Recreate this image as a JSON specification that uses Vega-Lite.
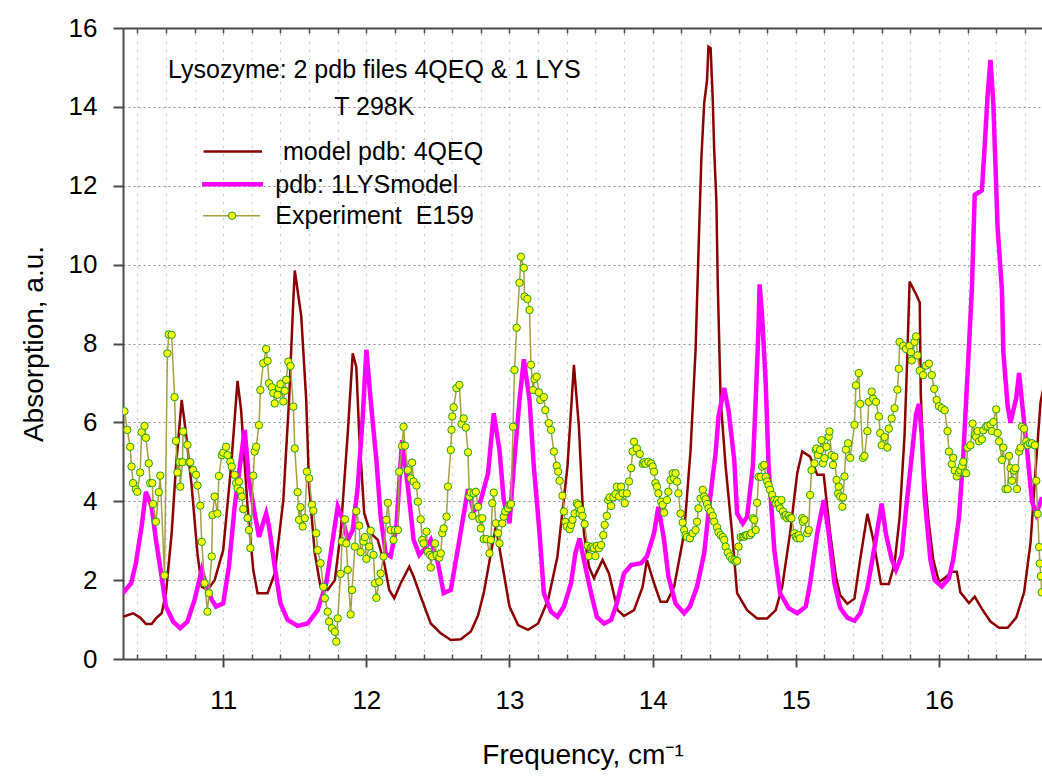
{
  "$schema": "https://vega.github.io/schema/vega-lite/v6.json",
  "width": 919,
  "height": 631,
  "autosize": {"type": "none"},
  "padding": {"left": 123, "top": 28, "right": 0, "bottom": 117},
  "background": "white",
  "config": {
    "view": {"stroke": null},
    "font": "Liberation Sans",
    "axis": {
      "labelFont": "Liberation Sans",
      "titleFont": "Liberation Sans",
      "labelColor": "#000000",
      "titleColor": "#000000",
      "titleFontWeight": "normal",
      "domainColor": "#4a4a4a",
      "domainWidth": 2,
      "tickColor": "#4a4a4a",
      "gridColor": "#8c8c8c",
      "gridWidth": 1
    }
  },
  "datasets": {
    "model4qeq": [
      {"freq": 10.30, "abs": 1.07}, {"freq": 10.37, "abs": 1.16}, {"freq": 10.42, "abs": 1.05}, {"freq": 10.46, "abs": 0.89},
      {"freq": 10.50, "abs": 0.89}, {"freq": 10.53, "abs": 1.03}, {"freq": 10.57, "abs": 1.16}, {"freq": 10.60, "abs": 1.67},
      {"freq": 10.64, "abs": 3.19}, {"freq": 10.67, "abs": 4.88}, {"freq": 10.71, "abs": 6.57}, {"freq": 10.74, "abs": 5.72},
      {"freq": 10.78, "abs": 4.37}, {"freq": 10.82, "abs": 2.68}, {"freq": 10.85, "abs": 1.83}, {"freq": 10.89, "abs": 1.75},
      {"freq": 10.94, "abs": 2.0}, {"freq": 11.0, "abs": 2.76}, {"freq": 11.055, "abs": 4.88}, {"freq": 11.10, "abs": 7.05},
      {"freq": 11.125, "abs": 6.31}, {"freq": 11.17, "abs": 3.86}, {"freq": 11.21, "abs": 2.26}, {"freq": 11.24, "abs": 1.67},
      {"freq": 11.31, "abs": 1.67}, {"freq": 11.36, "abs": 2.17}, {"freq": 11.42, "abs": 4.03}, {"freq": 11.46, "abs": 6.57},
      {"freq": 11.49, "abs": 9.1}, {"freq": 11.50, "abs": 9.85}, {"freq": 11.545, "abs": 8.7}, {"freq": 11.58, "abs": 6.57},
      {"freq": 11.60, "abs": 4.37}, {"freq": 11.64, "abs": 2.68}, {"freq": 11.68, "abs": 1.83}, {"freq": 11.73, "abs": 1.75},
      {"freq": 11.78, "abs": 2.0}, {"freq": 11.82, "abs": 3.19}, {"freq": 11.87, "abs": 5.72}, {"freq": 11.905, "abs": 7.75},
      {"freq": 11.93, "abs": 7.4}, {"freq": 11.95, "abs": 5.72}, {"freq": 11.985, "abs": 3.69}, {"freq": 12.03, "abs": 3.19},
      {"freq": 12.08, "abs": 3.02}, {"freq": 12.125, "abs": 2.43}, {"freq": 12.16, "abs": 1.75}, {"freq": 12.195, "abs": 1.54},
      {"freq": 12.24, "abs": 1.92}, {"freq": 12.30, "abs": 2.34}, {"freq": 12.33, "abs": 2.09}, {"freq": 12.38, "abs": 1.58},
      {"freq": 12.45, "abs": 0.9}, {"freq": 12.52, "abs": 0.65}, {"freq": 12.59, "abs": 0.48}, {"freq": 12.66, "abs": 0.5},
      {"freq": 12.73, "abs": 0.7}, {"freq": 12.78, "abs": 1.1}, {"freq": 12.82, "abs": 1.67}, {"freq": 12.87, "abs": 2.68},
      {"freq": 12.905, "abs": 3.36}, {"freq": 12.94, "abs": 2.6}, {"freq": 13.0, "abs": 1.33}, {"freq": 13.06, "abs": 0.86},
      {"freq": 13.13, "abs": 0.74}, {"freq": 13.2, "abs": 0.9}, {"freq": 13.27, "abs": 1.5}, {"freq": 13.335, "abs": 2.6},
      {"freq": 13.405, "abs": 4.88}, {"freq": 13.45, "abs": 7.46}, {"freq": 13.485, "abs": 5.89}, {"freq": 13.52, "abs": 3.19},
      {"freq": 13.555, "abs": 2.34}, {"freq": 13.59, "abs": 2.05}, {"freq": 13.65, "abs": 2.51}, {"freq": 13.695, "abs": 2.17},
      {"freq": 13.755, "abs": 1.24}, {"freq": 13.80, "abs": 1.09}, {"freq": 13.87, "abs": 1.24}, {"freq": 13.93, "abs": 1.83},
      {"freq": 13.96, "abs": 2.51}, {"freq": 14.01, "abs": 1.92}, {"freq": 14.055, "abs": 1.45}, {"freq": 14.10, "abs": 1.45},
      {"freq": 14.15, "abs": 1.83}, {"freq": 14.22, "abs": 3.19}, {"freq": 14.265, "abs": 5.3}, {"freq": 14.30, "abs": 7.84},
      {"freq": 14.32, "abs": 10.29}, {"freq": 14.34, "abs": 12.66}, {"freq": 14.36, "abs": 14.09}, {"freq": 14.38, "abs": 14.68},
      {"freq": 14.39, "abs": 15.53}, {"freq": 14.405, "abs": 15.49}, {"freq": 14.42, "abs": 14.18}, {"freq": 14.43, "abs": 12.91},
      {"freq": 14.445, "abs": 11.64}, {"freq": 14.455, "abs": 9.5}, {"freq": 14.475, "abs": 6.57}, {"freq": 14.51, "abs": 4.88},
      {"freq": 14.555, "abs": 3.19}, {"freq": 14.59, "abs": 1.67}, {"freq": 14.66, "abs": 1.24}, {"freq": 14.73, "abs": 1.03},
      {"freq": 14.80, "abs": 1.03}, {"freq": 14.86, "abs": 1.24}, {"freq": 14.905, "abs": 1.83}, {"freq": 14.96, "abs": 3.19},
      {"freq": 15.01, "abs": 4.71}, {"freq": 15.045, "abs": 5.26}, {"freq": 15.10, "abs": 5.13}, {"freq": 15.15, "abs": 4.67},
      {"freq": 15.195, "abs": 4.67}, {"freq": 15.24, "abs": 3.19}, {"freq": 15.28, "abs": 2.09}, {"freq": 15.31, "abs": 1.62},
      {"freq": 15.36, "abs": 1.4}, {"freq": 15.41, "abs": 1.53}, {"freq": 15.45, "abs": 2.53}, {"freq": 15.50, "abs": 3.68},
      {"freq": 15.54, "abs": 3.05}, {"freq": 15.595, "abs": 1.9}, {"freq": 15.65, "abs": 1.9}, {"freq": 15.69, "abs": 2.42},
      {"freq": 15.725, "abs": 3.58}, {"freq": 15.76, "abs": 5.68}, {"freq": 15.78, "abs": 7.78}, {"freq": 15.795, "abs": 9.57},
      {"freq": 15.84, "abs": 9.25}, {"freq": 15.866, "abs": 9.04}, {"freq": 15.873, "abs": 6.73}, {"freq": 15.89, "abs": 5.15},
      {"freq": 15.925, "abs": 3.58}, {"freq": 15.96, "abs": 2.53}, {"freq": 16.0, "abs": 1.95}, {"freq": 16.04, "abs": 2.05},
      {"freq": 16.09, "abs": 2.21}, {"freq": 16.125, "abs": 2.21}, {"freq": 16.15, "abs": 1.69}, {"freq": 16.21, "abs": 1.42},
      {"freq": 16.25, "abs": 1.58}, {"freq": 16.30, "abs": 1.27}, {"freq": 16.36, "abs": 0.95}, {"freq": 16.42, "abs": 0.79},
      {"freq": 16.48, "abs": 0.79}, {"freq": 16.54, "abs": 1.05}, {"freq": 16.595, "abs": 1.69}, {"freq": 16.64, "abs": 2.95},
      {"freq": 16.68, "abs": 5.05}, {"freq": 16.71, "abs": 6.52}, {"freq": 16.74, "abs": 7.04}
    ],
    "model1lys": [
      {"freq": 10.30, "abs": 1.67}, {"freq": 10.357, "abs": 1.92}, {"freq": 10.39, "abs": 2.43}, {"freq": 10.43, "abs": 3.36},
      {"freq": 10.46, "abs": 4.24}, {"freq": 10.50, "abs": 3.86}, {"freq": 10.53, "abs": 3.02}, {"freq": 10.57, "abs": 2.09},
      {"freq": 10.60, "abs": 1.33}, {"freq": 10.65, "abs": 0.95}, {"freq": 10.70, "abs": 0.78}, {"freq": 10.75, "abs": 0.95},
      {"freq": 10.80, "abs": 1.5}, {"freq": 10.85, "abs": 2.26}, {"freq": 10.87, "abs": 2.0}, {"freq": 10.92, "abs": 1.5},
      {"freq": 10.95, "abs": 1.33}, {"freq": 11.0, "abs": 1.41}, {"freq": 11.04, "abs": 2.34}, {"freq": 11.08, "abs": 3.86},
      {"freq": 11.125, "abs": 5.13}, {"freq": 11.15, "abs": 5.81}, {"freq": 11.18, "abs": 4.54}, {"freq": 11.22, "abs": 3.69},
      {"freq": 11.25, "abs": 3.1}, {"freq": 11.30, "abs": 3.69}, {"freq": 11.32, "abs": 3.36}, {"freq": 11.36, "abs": 2.34},
      {"freq": 11.40, "abs": 1.41}, {"freq": 11.45, "abs": 0.99}, {"freq": 11.52, "abs": 0.84}, {"freq": 11.59, "abs": 0.9},
      {"freq": 11.66, "abs": 1.24}, {"freq": 11.72, "abs": 1.92}, {"freq": 11.765, "abs": 3.02}, {"freq": 11.80, "abs": 3.86},
      {"freq": 11.835, "abs": 3.53}, {"freq": 11.87, "abs": 3.02}, {"freq": 11.905, "abs": 3.27}, {"freq": 11.94, "abs": 4.37},
      {"freq": 11.975, "abs": 6.15}, {"freq": 12.0, "abs": 7.84}, {"freq": 12.03, "abs": 6.57}, {"freq": 12.07, "abs": 5.05},
      {"freq": 12.10, "abs": 3.61}, {"freq": 12.135, "abs": 2.68}, {"freq": 12.17, "abs": 2.6}, {"freq": 12.21, "abs": 3.36},
      {"freq": 12.25, "abs": 5.55}, {"freq": 12.29, "abs": 4.37}, {"freq": 12.33, "abs": 3.02}, {"freq": 12.37, "abs": 2.64},
      {"freq": 12.42, "abs": 2.85}, {"freq": 12.45, "abs": 3.02}, {"freq": 12.50, "abs": 2.43}, {"freq": 12.54, "abs": 1.67},
      {"freq": 12.59, "abs": 1.75}, {"freq": 12.65, "abs": 3.02}, {"freq": 12.71, "abs": 4.31}, {"freq": 12.75, "abs": 3.75},
      {"freq": 12.79, "abs": 3.9}, {"freq": 12.85, "abs": 4.71}, {"freq": 12.89, "abs": 6.23}, {"freq": 12.93, "abs": 5.3},
      {"freq": 12.96, "abs": 4.03}, {"freq": 13.0, "abs": 3.44}, {"freq": 13.03, "abs": 4.88}, {"freq": 13.07, "abs": 6.57},
      {"freq": 13.10, "abs": 7.6}, {"freq": 13.14, "abs": 6.57}, {"freq": 13.17, "abs": 4.88}, {"freq": 13.21, "abs": 3.19},
      {"freq": 13.24, "abs": 1.67}, {"freq": 13.29, "abs": 1.2}, {"freq": 13.335, "abs": 1.07}, {"freq": 13.38, "abs": 1.33},
      {"freq": 13.43, "abs": 1.92}, {"freq": 13.46, "abs": 2.68}, {"freq": 13.49, "abs": 3.06}, {"freq": 13.52, "abs": 2.51},
      {"freq": 13.57, "abs": 1.67}, {"freq": 13.61, "abs": 1.07}, {"freq": 13.66, "abs": 0.9}, {"freq": 13.71, "abs": 0.99},
      {"freq": 13.75, "abs": 1.41}, {"freq": 13.80, "abs": 2.17}, {"freq": 13.85, "abs": 2.38}, {"freq": 13.92, "abs": 2.43},
      {"freq": 13.96, "abs": 2.6}, {"freq": 14.01, "abs": 3.19}, {"freq": 14.04, "abs": 3.86}, {"freq": 14.08, "abs": 3.02},
      {"freq": 14.11, "abs": 2.09}, {"freq": 14.16, "abs": 1.41}, {"freq": 14.22, "abs": 1.16}, {"freq": 14.26, "abs": 1.33},
      {"freq": 14.31, "abs": 1.83}, {"freq": 14.36, "abs": 2.68}, {"freq": 14.40, "abs": 4.03}, {"freq": 14.44, "abs": 5.22},
      {"freq": 14.46, "abs": 6.15}, {"freq": 14.50, "abs": 6.87}, {"freq": 14.53, "abs": 6.31}, {"freq": 14.57, "abs": 5.05},
      {"freq": 14.59, "abs": 3.69}, {"freq": 14.63, "abs": 3.44}, {"freq": 14.66, "abs": 3.61}, {"freq": 14.70, "abs": 4.88},
      {"freq": 14.72, "abs": 6.57}, {"freq": 14.74, "abs": 8.43}, {"freq": 14.747, "abs": 9.5}, {"freq": 14.765, "abs": 8.68},
      {"freq": 14.79, "abs": 6.99}, {"freq": 14.81, "abs": 4.88}, {"freq": 14.85, "abs": 2.76}, {"freq": 14.89, "abs": 1.67},
      {"freq": 14.95, "abs": 1.29}, {"freq": 15.01, "abs": 1.16}, {"freq": 15.07, "abs": 1.33}, {"freq": 15.10, "abs": 1.92},
      {"freq": 15.15, "abs": 3.19}, {"freq": 15.195, "abs": 4.03}, {"freq": 15.23, "abs": 3.19}, {"freq": 15.27, "abs": 1.92},
      {"freq": 15.31, "abs": 1.3}, {"freq": 15.36, "abs": 1.05}, {"freq": 15.41, "abs": 0.97}, {"freq": 15.45, "abs": 1.16},
      {"freq": 15.50, "abs": 1.79}, {"freq": 15.55, "abs": 2.84}, {"freq": 15.60, "abs": 3.94}, {"freq": 15.63, "abs": 3.16},
      {"freq": 15.67, "abs": 2.53}, {"freq": 15.70, "abs": 2.26}, {"freq": 15.74, "abs": 2.63}, {"freq": 15.77, "abs": 3.79},
      {"freq": 15.81, "abs": 5.15}, {"freq": 15.84, "abs": 6.2}, {"freq": 15.86, "abs": 6.47}, {"freq": 15.88, "abs": 5.68},
      {"freq": 15.90, "abs": 4.1}, {"freq": 15.94, "abs": 2.53}, {"freq": 15.97, "abs": 2.0}, {"freq": 16.02, "abs": 1.84},
      {"freq": 16.07, "abs": 2.05}, {"freq": 16.10, "abs": 2.53}, {"freq": 16.14, "abs": 3.58}, {"freq": 16.17, "abs": 5.15},
      {"freq": 16.20, "abs": 7.25}, {"freq": 16.23, "abs": 9.36}, {"freq": 16.25, "abs": 11.77}, {"freq": 16.30, "abs": 11.88},
      {"freq": 16.32, "abs": 13.03}, {"freq": 16.34, "abs": 14.29}, {"freq": 16.36, "abs": 15.19}, {"freq": 16.38, "abs": 14.08},
      {"freq": 16.395, "abs": 12.51}, {"freq": 16.41, "abs": 10.93}, {"freq": 16.44, "abs": 9.36}, {"freq": 16.45, "abs": 7.78},
      {"freq": 16.48, "abs": 6.41}, {"freq": 16.50, "abs": 5.99}, {"freq": 16.54, "abs": 6.62}, {"freq": 16.56, "abs": 7.25},
      {"freq": 16.58, "abs": 6.52}, {"freq": 16.62, "abs": 5.15}, {"freq": 16.65, "abs": 4.0}, {"freq": 16.68, "abs": 3.68},
      {"freq": 16.72, "abs": 4.1}
    ],
    "e159": [
      {"freq": 10.31, "abs": 6.28}, {"freq": 10.33, "abs": 5.81}, {"freq": 10.35, "abs": 5.38}, {"freq": 10.36, "abs": 4.88},
      {"freq": 10.37, "abs": 4.46}, {"freq": 10.39, "abs": 4.3}, {"freq": 10.40, "abs": 4.24}, {"freq": 10.42, "abs": 4.73},
      {"freq": 10.43, "abs": 5.75}, {"freq": 10.45, "abs": 5.91}, {"freq": 10.46, "abs": 5.61}, {"freq": 10.48, "abs": 4.96},
      {"freq": 10.49, "abs": 4.46}, {"freq": 10.505, "abs": 4.46}, {"freq": 10.51, "abs": 3.93}, {"freq": 10.53, "abs": 3.48},
      {"freq": 10.55, "abs": 4.23}, {"freq": 10.56, "abs": 4.65}, {"freq": 10.59, "abs": 2.12}, {"freq": 10.61, "abs": 7.75},
      {"freq": 10.62, "abs": 8.23}, {"freq": 10.64, "abs": 8.22}, {"freq": 10.66, "abs": 6.64}, {"freq": 10.67, "abs": 5.53},
      {"freq": 10.68, "abs": 4.73}, {"freq": 10.695, "abs": 4.99}, {"freq": 10.70, "abs": 4.37}, {"freq": 10.715, "abs": 4.99},
      {"freq": 10.72, "abs": 5.77}, {"freq": 10.75, "abs": 5.43}, {"freq": 10.76, "abs": 4.99}, {"freq": 10.77, "abs": 4.99},
      {"freq": 10.79, "abs": 4.79}, {"freq": 10.81, "abs": 4.67}, {"freq": 10.82, "abs": 4.4}, {"freq": 10.84, "abs": 3.89},
      {"freq": 10.85, "abs": 2.97}, {"freq": 10.87, "abs": 1.92}, {"freq": 10.89, "abs": 1.2}, {"freq": 10.90, "abs": 1.67},
      {"freq": 10.92, "abs": 2.6}, {"freq": 10.925, "abs": 3.65}, {"freq": 10.94, "abs": 4.12}, {"freq": 10.96, "abs": 3.69},
      {"freq": 10.97, "abs": 4.64}, {"freq": 10.99, "abs": 5.17}, {"freq": 11.0, "abs": 5.23}, {"freq": 11.02, "abs": 5.38},
      {"freq": 11.03, "abs": 5.17}, {"freq": 11.05, "abs": 5.0}, {"freq": 11.06, "abs": 4.88}, {"freq": 11.08, "abs": 4.67},
      {"freq": 11.09, "abs": 4.46}, {"freq": 11.10, "abs": 4.33}, {"freq": 11.11, "abs": 4.5}, {"freq": 11.12, "abs": 4.26},
      {"freq": 11.13, "abs": 4.12}, {"freq": 11.14, "abs": 3.8}, {"freq": 11.17, "abs": 3.57}, {"freq": 11.18, "abs": 3.27},
      {"freq": 11.19, "abs": 2.81}, {"freq": 11.21, "abs": 4.65}, {"freq": 11.22, "abs": 5.26}, {"freq": 11.23, "abs": 5.38},
      {"freq": 11.25, "abs": 5.93}, {"freq": 11.26, "abs": 6.82}, {"freq": 11.28, "abs": 7.5}, {"freq": 11.30, "abs": 7.86},
      {"freq": 11.31, "abs": 7.56}, {"freq": 11.32, "abs": 6.99}, {"freq": 11.34, "abs": 6.89}, {"freq": 11.35, "abs": 6.74},
      {"freq": 11.36, "abs": 6.48}, {"freq": 11.38, "abs": 6.7}, {"freq": 11.39, "abs": 6.87}, {"freq": 11.40, "abs": 6.97},
      {"freq": 11.42, "abs": 6.53}, {"freq": 11.43, "abs": 6.8}, {"freq": 11.44, "abs": 7.08}, {"freq": 11.455, "abs": 7.54},
      {"freq": 11.47, "abs": 7.43}, {"freq": 11.49, "abs": 6.4}, {"freq": 11.50, "abs": 5.34}, {"freq": 11.52, "abs": 4.23},
      {"freq": 11.53, "abs": 3.53}, {"freq": 11.54, "abs": 3.85}, {"freq": 11.555, "abs": 3.36}, {"freq": 11.57, "abs": 3.57},
      {"freq": 11.585, "abs": 4.75}, {"freq": 11.60, "abs": 4.58}, {"freq": 11.62, "abs": 3.91}, {"freq": 11.63, "abs": 3.76},
      {"freq": 11.65, "abs": 3.19}, {"freq": 11.66, "abs": 2.76}, {"freq": 11.68, "abs": 2.43}, {"freq": 11.70, "abs": 1.83},
      {"freq": 11.71, "abs": 1.54}, {"freq": 11.73, "abs": 1.2}, {"freq": 11.74, "abs": 0.95}, {"freq": 11.76, "abs": 0.78},
      {"freq": 11.78, "abs": 0.69}, {"freq": 11.79, "abs": 0.44}, {"freq": 11.80, "abs": 1.03}, {"freq": 11.82, "abs": 2.16},
      {"freq": 11.83, "abs": 2.98}, {"freq": 11.85, "abs": 3.54}, {"freq": 11.86, "abs": 2.93}, {"freq": 11.87, "abs": 2.26},
      {"freq": 11.89, "abs": 1.13}, {"freq": 11.90, "abs": 1.75}, {"freq": 11.92, "abs": 2.85}, {"freq": 11.93, "abs": 3.75},
      {"freq": 11.95, "abs": 3.38}, {"freq": 11.96, "abs": 2.71}, {"freq": 11.98, "abs": 2.98}, {"freq": 11.99, "abs": 3.09},
      {"freq": 12.0, "abs": 2.54}, {"freq": 12.02, "abs": 2.85}, {"freq": 12.03, "abs": 3.25}, {"freq": 12.05, "abs": 2.64},
      {"freq": 12.06, "abs": 1.92}, {"freq": 12.07, "abs": 1.55}, {"freq": 12.09, "abs": 1.96}, {"freq": 12.10, "abs": 2.17},
      {"freq": 12.12, "abs": 2.6}, {"freq": 12.14, "abs": 3.53}, {"freq": 12.15, "abs": 3.96}, {"freq": 12.17, "abs": 3.27},
      {"freq": 12.19, "abs": 3.02}, {"freq": 12.20, "abs": 3.27}, {"freq": 12.22, "abs": 3.27}, {"freq": 12.23, "abs": 4.75},
      {"freq": 12.25, "abs": 5.4}, {"freq": 12.26, "abs": 5.89}, {"freq": 12.27, "abs": 5.41}, {"freq": 12.29, "abs": 4.79},
      {"freq": 12.31, "abs": 4.58}, {"freq": 12.32, "abs": 4.98}, {"freq": 12.33, "abs": 4.5}, {"freq": 12.35, "abs": 4.4},
      {"freq": 12.36, "abs": 3.99}, {"freq": 12.38, "abs": 3.54}, {"freq": 12.39, "abs": 3.02}, {"freq": 12.40, "abs": 2.93},
      {"freq": 12.42, "abs": 3.23}, {"freq": 12.43, "abs": 2.72}, {"freq": 12.445, "abs": 2.64}, {"freq": 12.45, "abs": 2.32},
      {"freq": 12.46, "abs": 2.6}, {"freq": 12.48, "abs": 2.93}, {"freq": 12.49, "abs": 2.64}, {"freq": 12.51, "abs": 2.57},
      {"freq": 12.52, "abs": 2.68}, {"freq": 12.53, "abs": 3.19}, {"freq": 12.54, "abs": 3.31}, {"freq": 12.56, "abs": 3.61},
      {"freq": 12.57, "abs": 4.37}, {"freq": 12.59, "abs": 5.3}, {"freq": 12.595, "abs": 5.81}, {"freq": 12.60, "abs": 6.15},
      {"freq": 12.61, "abs": 6.38}, {"freq": 12.63, "abs": 6.87}, {"freq": 12.65, "abs": 6.95}, {"freq": 12.665, "abs": 5.96},
      {"freq": 12.68, "abs": 6.1}, {"freq": 12.695, "abs": 5.87}, {"freq": 12.71, "abs": 5.24}, {"freq": 12.72, "abs": 4.12},
      {"freq": 12.73, "abs": 4.22}, {"freq": 12.74, "abs": 3.63}, {"freq": 12.75, "abs": 4.2}, {"freq": 12.765, "abs": 4.24},
      {"freq": 12.78, "abs": 3.86}, {"freq": 12.79, "abs": 3.55}, {"freq": 12.80, "abs": 3.31}, {"freq": 12.81, "abs": 3.57},
      {"freq": 12.82, "abs": 3.04}, {"freq": 12.84, "abs": 3.04}, {"freq": 12.86, "abs": 2.68}, {"freq": 12.87, "abs": 3.02},
      {"freq": 12.88, "abs": 3.95}, {"freq": 12.89, "abs": 4.22}, {"freq": 12.905, "abs": 3.44}, {"freq": 12.92, "abs": 3.19},
      {"freq": 12.93, "abs": 2.93}, {"freq": 12.95, "abs": 3.44}, {"freq": 12.96, "abs": 3.61}, {"freq": 12.97, "abs": 3.74},
      {"freq": 12.99, "abs": 3.82}, {"freq": 13.0, "abs": 3.91}, {"freq": 13.01, "abs": 3.93}, {"freq": 13.025, "abs": 5.89},
      {"freq": 13.035, "abs": 7.33}, {"freq": 13.05, "abs": 8.4}, {"freq": 13.07, "abs": 9.54}, {"freq": 13.08, "abs": 10.2},
      {"freq": 13.10, "abs": 9.92}, {"freq": 13.105, "abs": 9.19}, {"freq": 13.125, "abs": 9.13}, {"freq": 13.14, "abs": 8.85},
      {"freq": 13.15, "abs": 7.46}, {"freq": 13.165, "abs": 6.82}, {"freq": 13.175, "abs": 7.1}, {"freq": 13.19, "abs": 7.16},
      {"freq": 13.205, "abs": 6.76}, {"freq": 13.215, "abs": 6.57}, {"freq": 13.24, "abs": 6.64}, {"freq": 13.25, "abs": 6.31},
      {"freq": 13.275, "abs": 5.98}, {"freq": 13.29, "abs": 5.81}, {"freq": 13.31, "abs": 5.26}, {"freq": 13.33, "abs": 4.9},
      {"freq": 13.34, "abs": 4.75}, {"freq": 13.35, "abs": 4.52}, {"freq": 13.37, "abs": 4.14}, {"freq": 13.38, "abs": 3.74},
      {"freq": 13.39, "abs": 3.48}, {"freq": 13.40, "abs": 3.36}, {"freq": 13.42, "abs": 3.29}, {"freq": 13.43, "abs": 3.4},
      {"freq": 13.44, "abs": 3.53}, {"freq": 13.455, "abs": 3.69}, {"freq": 13.47, "abs": 3.95}, {"freq": 13.48, "abs": 3.91},
      {"freq": 13.49, "abs": 3.69}, {"freq": 13.50, "abs": 3.78}, {"freq": 13.51, "abs": 3.63}, {"freq": 13.525, "abs": 3.42},
      {"freq": 13.545, "abs": 2.87}, {"freq": 13.555, "abs": 2.61}, {"freq": 13.57, "abs": 2.83}, {"freq": 13.58, "abs": 2.85},
      {"freq": 13.59, "abs": 2.81}, {"freq": 13.60, "abs": 2.61}, {"freq": 13.61, "abs": 2.87}, {"freq": 13.625, "abs": 2.81},
      {"freq": 13.64, "abs": 2.89}, {"freq": 13.655, "abs": 3.14}, {"freq": 13.665, "abs": 3.4}, {"freq": 13.68, "abs": 3.63},
      {"freq": 13.69, "abs": 4.03}, {"freq": 13.70, "abs": 4.1}, {"freq": 13.71, "abs": 3.88}, {"freq": 13.725, "abs": 4.1},
      {"freq": 13.74, "abs": 4.18}, {"freq": 13.75, "abs": 4.37}, {"freq": 13.765, "abs": 4.12}, {"freq": 13.78, "abs": 4.37},
      {"freq": 13.79, "abs": 4.2}, {"freq": 13.805, "abs": 3.95}, {"freq": 13.82, "abs": 4.2}, {"freq": 13.835, "abs": 4.5},
      {"freq": 13.85, "abs": 4.84}, {"freq": 13.86, "abs": 5.26}, {"freq": 13.87, "abs": 5.51}, {"freq": 13.89, "abs": 5.34},
      {"freq": 13.91, "abs": 5.2}, {"freq": 13.93, "abs": 4.95}, {"freq": 13.94, "abs": 4.99}, {"freq": 13.95, "abs": 4.95},
      {"freq": 13.97, "abs": 5.0}, {"freq": 13.99, "abs": 4.96}, {"freq": 14.0, "abs": 4.88}, {"freq": 14.01, "abs": 4.75},
      {"freq": 14.02, "abs": 4.46}, {"freq": 14.03, "abs": 4.37}, {"freq": 14.04, "abs": 4.2}, {"freq": 14.06, "abs": 3.99},
      {"freq": 14.07, "abs": 3.91}, {"freq": 14.08, "abs": 3.71}, {"freq": 14.10, "abs": 4.03}, {"freq": 14.11, "abs": 4.24},
      {"freq": 14.125, "abs": 4.54}, {"freq": 14.14, "abs": 4.71}, {"freq": 14.15, "abs": 4.58}, {"freq": 14.16, "abs": 4.71},
      {"freq": 14.17, "abs": 4.5}, {"freq": 14.18, "abs": 4.2}, {"freq": 14.195, "abs": 3.69}, {"freq": 14.21, "abs": 3.46},
      {"freq": 14.22, "abs": 3.27}, {"freq": 14.23, "abs": 3.14}, {"freq": 14.24, "abs": 3.09}, {"freq": 14.26, "abs": 3.06},
      {"freq": 14.28, "abs": 3.19}, {"freq": 14.30, "abs": 3.27}, {"freq": 14.31, "abs": 3.48}, {"freq": 14.32, "abs": 3.82},
      {"freq": 14.335, "abs": 4.07}, {"freq": 14.35, "abs": 4.29}, {"freq": 14.36, "abs": 4.12}, {"freq": 14.37, "abs": 4.05},
      {"freq": 14.38, "abs": 3.93}, {"freq": 14.39, "abs": 3.82}, {"freq": 14.405, "abs": 3.74}, {"freq": 14.42, "abs": 3.63},
      {"freq": 14.43, "abs": 3.48}, {"freq": 14.45, "abs": 3.34}, {"freq": 14.46, "abs": 3.21}, {"freq": 14.475, "abs": 3.14},
      {"freq": 14.49, "abs": 3.09}, {"freq": 14.50, "abs": 3.02}, {"freq": 14.51, "abs": 2.85}, {"freq": 14.525, "abs": 2.7},
      {"freq": 14.54, "abs": 2.6}, {"freq": 14.555, "abs": 2.53}, {"freq": 14.57, "abs": 2.51}, {"freq": 14.58, "abs": 2.47},
      {"freq": 14.59, "abs": 2.49}, {"freq": 14.60, "abs": 2.85}, {"freq": 14.615, "abs": 3.09}, {"freq": 14.63, "abs": 3.1},
      {"freq": 14.64, "abs": 3.1}, {"freq": 14.65, "abs": 3.14}, {"freq": 14.66, "abs": 3.14}, {"freq": 14.68, "abs": 3.14},
      {"freq": 14.69, "abs": 3.19}, {"freq": 14.70, "abs": 3.57}, {"freq": 14.71, "abs": 3.53}, {"freq": 14.72, "abs": 3.27},
      {"freq": 14.73, "abs": 3.96}, {"freq": 14.74, "abs": 4.62}, {"freq": 14.755, "abs": 4.62}, {"freq": 14.765, "abs": 4.88},
      {"freq": 14.78, "abs": 4.92}, {"freq": 14.79, "abs": 4.62}, {"freq": 14.80, "abs": 4.5}, {"freq": 14.81, "abs": 4.41},
      {"freq": 14.82, "abs": 4.29}, {"freq": 14.835, "abs": 4.16}, {"freq": 14.85, "abs": 4.03}, {"freq": 14.86, "abs": 3.95},
      {"freq": 14.87, "abs": 4.03}, {"freq": 14.88, "abs": 3.95}, {"freq": 14.89, "abs": 3.82}, {"freq": 14.90, "abs": 4.03},
      {"freq": 14.91, "abs": 3.74}, {"freq": 14.92, "abs": 3.63}, {"freq": 14.93, "abs": 3.65}, {"freq": 14.94, "abs": 3.57},
      {"freq": 14.95, "abs": 3.63}, {"freq": 14.96, "abs": 3.57}, {"freq": 14.97, "abs": 3.57}, {"freq": 14.99, "abs": 3.19},
      {"freq": 15.0, "abs": 3.1}, {"freq": 15.01, "abs": 3.06}, {"freq": 15.02, "abs": 3.14}, {"freq": 15.03, "abs": 3.06},
      {"freq": 15.045, "abs": 3.57}, {"freq": 15.05, "abs": 3.48}, {"freq": 15.06, "abs": 3.53}, {"freq": 15.08, "abs": 3.19},
      {"freq": 15.09, "abs": 3.27}, {"freq": 15.10, "abs": 4.16}, {"freq": 15.11, "abs": 4.79}, {"freq": 15.13, "abs": 4.96},
      {"freq": 15.14, "abs": 5.3}, {"freq": 15.145, "abs": 5.34}, {"freq": 15.155, "abs": 5.17}, {"freq": 15.17, "abs": 5.3},
      {"freq": 15.18, "abs": 5.55}, {"freq": 15.19, "abs": 4.96}, {"freq": 15.20, "abs": 5.09}, {"freq": 15.215, "abs": 5.38},
      {"freq": 15.23, "abs": 5.64}, {"freq": 15.235, "abs": 5.77}, {"freq": 15.25, "abs": 5.17}, {"freq": 15.26, "abs": 4.92},
      {"freq": 15.27, "abs": 5.13}, {"freq": 15.285, "abs": 4.54}, {"freq": 15.295, "abs": 4.2}, {"freq": 15.30, "abs": 4.37},
      {"freq": 15.31, "abs": 4.12}, {"freq": 15.325, "abs": 3.86}, {"freq": 15.33, "abs": 4.1}, {"freq": 15.34, "abs": 4.63},
      {"freq": 15.35, "abs": 5.31}, {"freq": 15.365, "abs": 5.47}, {"freq": 15.38, "abs": 5.1}, {"freq": 15.41, "abs": 5.94},
      {"freq": 15.42, "abs": 6.94}, {"freq": 15.44, "abs": 7.25}, {"freq": 15.45, "abs": 6.47}, {"freq": 15.47, "abs": 5.1},
      {"freq": 15.48, "abs": 5.15}, {"freq": 15.50, "abs": 5.78}, {"freq": 15.51, "abs": 6.52}, {"freq": 15.53, "abs": 6.78},
      {"freq": 15.54, "abs": 6.6}, {"freq": 15.56, "abs": 6.52}, {"freq": 15.58, "abs": 6.15}, {"freq": 15.59, "abs": 5.73},
      {"freq": 15.60, "abs": 5.42}, {"freq": 15.62, "abs": 5.63}, {"freq": 15.64, "abs": 5.36}, {"freq": 15.65, "abs": 5.84},
      {"freq": 15.67, "abs": 6.1}, {"freq": 15.69, "abs": 6.36}, {"freq": 15.71, "abs": 6.83}, {"freq": 15.72, "abs": 7.36},
      {"freq": 15.725, "abs": 8.04}, {"freq": 15.75, "abs": 7.94}, {"freq": 15.77, "abs": 7.86}, {"freq": 15.795, "abs": 7.94},
      {"freq": 15.805, "abs": 7.78}, {"freq": 15.81, "abs": 7.57}, {"freq": 15.83, "abs": 8.04}, {"freq": 15.84, "abs": 8.18},
      {"freq": 15.85, "abs": 7.7}, {"freq": 15.866, "abs": 7.31}, {"freq": 15.89, "abs": 7.2}, {"freq": 15.91, "abs": 7.44},
      {"freq": 15.93, "abs": 7.49}, {"freq": 15.95, "abs": 7.2}, {"freq": 15.967, "abs": 6.85}, {"freq": 15.984, "abs": 6.57},
      {"freq": 16.0, "abs": 6.41}, {"freq": 16.02, "abs": 6.36}, {"freq": 16.04, "abs": 6.31}, {"freq": 16.06, "abs": 5.78},
      {"freq": 16.07, "abs": 5.26}, {"freq": 16.09, "abs": 4.94}, {"freq": 16.10, "abs": 5.1}, {"freq": 16.11, "abs": 4.78},
      {"freq": 16.125, "abs": 4.63}, {"freq": 16.14, "abs": 4.73}, {"freq": 16.15, "abs": 4.78}, {"freq": 16.16, "abs": 4.89},
      {"freq": 16.17, "abs": 5.0}, {"freq": 16.18, "abs": 4.73}, {"freq": 16.19, "abs": 4.71}, {"freq": 16.20, "abs": 5.36},
      {"freq": 16.22, "abs": 5.42}, {"freq": 16.235, "abs": 5.97}, {"freq": 16.25, "abs": 5.68}, {"freq": 16.26, "abs": 5.63},
      {"freq": 16.27, "abs": 5.78}, {"freq": 16.28, "abs": 5.52}, {"freq": 16.30, "abs": 5.57}, {"freq": 16.31, "abs": 5.8},
      {"freq": 16.33, "abs": 5.89}, {"freq": 16.34, "abs": 5.91}, {"freq": 16.36, "abs": 5.94}, {"freq": 16.37, "abs": 5.78},
      {"freq": 16.38, "abs": 6.01}, {"freq": 16.40, "abs": 6.33}, {"freq": 16.41, "abs": 5.73}, {"freq": 16.42, "abs": 5.52},
      {"freq": 16.44, "abs": 5.05}, {"freq": 16.45, "abs": 5.36}, {"freq": 16.465, "abs": 4.31}, {"freq": 16.48, "abs": 4.31},
      {"freq": 16.49, "abs": 5.15}, {"freq": 16.50, "abs": 4.84}, {"freq": 16.51, "abs": 4.52}, {"freq": 16.525, "abs": 4.78},
      {"freq": 16.535, "abs": 4.84}, {"freq": 16.545, "abs": 4.31}, {"freq": 16.56, "abs": 5.26}, {"freq": 16.57, "abs": 5.36},
      {"freq": 16.58, "abs": 5.89}, {"freq": 16.595, "abs": 5.84}, {"freq": 16.61, "abs": 5.52}, {"freq": 16.62, "abs": 5.42},
      {"freq": 16.635, "abs": 5.47}, {"freq": 16.65, "abs": 5.47}, {"freq": 16.67, "abs": 5.42}, {"freq": 16.68, "abs": 4.52},
      {"freq": 16.69, "abs": 3.68}, {"freq": 16.70, "abs": 2.84}, {"freq": 16.705, "abs": 2.42}, {"freq": 16.712, "abs": 2.1},
      {"freq": 16.718, "abs": 1.69}
    ],
    "notes": [
      {"text": "Lysozyme: 2 pdb files 4QEQ & 1 LYS"},
      {"text": "T 298K"},
      {"text": "model pdb: 4QEQ"},
      {"text": "pdb: 1LYSmodel"},
      {"text": "Experiment\u00a0 E159"}
    ]
  },
  "layer": [
    {
      "data": {"name": "model4qeq"},
      "mark": {"type": "line", "color": "#8b0000", "strokeWidth": 2.5, "clip": true},
      "encoding": {
        "x": {
          "field": "freq", "type": "quantitative",
          "scale": {"domain": [10.3, 16.72], "nice": false, "zero": false},
          "axis": {
            "orient": "bottom",
            "values": [11, 12, 13, 14, 15, 16],
            "grid": false,
            "domain": true,
            "tickSize": 8,
            "tickWidth": 2,
            "labelFontSize": 26,
            "labelPadding": 20,
            "title": "Frequency, cm\u207b\u00b9",
            "titleFontSize": 28,
            "titlePadding": 28
          }
        },
        "y": {
          "field": "abs", "type": "quantitative",
          "scale": {"domain": [0, 16], "nice": false, "zero": true},
          "axis": {
            "orient": "left",
            "values": [0, 2, 4, 6, 8, 10, 12, 14, 16],
            "grid": true,
            "gridDash": [2, 3],
            "domain": true,
            "tickSize": 10,
            "tickWidth": 2,
            "labelFontSize": 26,
            "labelPadding": 16,
            "title": "Absorption, a.u.",
            "titleFontSize": 28,
            "titlePadding": 20
          }
        }
      }
    },
    {
      "data": {"name": "model1lys"},
      "mark": {"type": "line", "color": "#ff00ff", "strokeWidth": 4.5, "clip": true},
      "encoding": {
        "x": {
          "field": "freq", "type": "quantitative",
          "scale": {"domain": [10.3, 16.72], "nice": false, "zero": false},
          "axis": {
            "orient": "top",
            "values": [10.4, 10.6, 10.8, 11, 11.2, 11.4, 11.6, 11.8, 12, 12.2, 12.4, 12.6, 12.8, 13, 13.2, 13.4, 13.6, 13.8, 14, 14.2, 14.4, 14.6, 14.8, 15, 15.2, 15.4, 15.6, 15.8, 16, 16.2, 16.4, 16.6],
            "labels": false,
            "domain": true,
            "ticks": true,
            "tickSize": -5,
            "tickWidth": 1.5,
            "grid": true,
            "gridDash": [1, 7],
            "title": null
          }
        },
        "y": {"field": "abs", "type": "quantitative", "axis": null}
      }
    },
    {
      "data": {"name": "e159"},
      "mark": {"type": "line", "color": "#a3a041", "strokeWidth": 1.5, "clip": true},
      "encoding": {
        "x": {
          "field": "freq", "type": "quantitative",
          "scale": {"domain": [10.3, 16.72], "nice": false, "zero": false},
          "axis": {
            "orient": "bottom",
            "values": [10.4, 10.6, 10.8, 11, 11.2, 11.4, 11.6, 11.8, 12, 12.2, 12.4, 12.6, 12.8, 13, 13.2, 13.4, 13.6, 13.8, 14, 14.2, 14.4, 14.6, 14.8, 15, 15.2, 15.4, 15.6, 15.8, 16, 16.2, 16.4, 16.6],
            "labels": false,
            "domain": false,
            "ticks": true,
            "tickSize": -5,
            "tickWidth": 1.5,
            "grid": false,
            "title": null
          }
        },
        "y": {"field": "abs", "type": "quantitative", "axis": null}
      }
    },
    {
      "data": {"name": "e159"},
      "mark": {"type": "point", "shape": "circle", "filled": true, "fill": "#ffff00", "stroke": "#1f9a1f", "strokeWidth": 1, "size": 55, "opacity": 1, "clip": true},
      "encoding": {
        "x": {"field": "freq", "type": "quantitative", "axis": null},
        "y": {"field": "abs", "type": "quantitative", "axis": null}
      }
    },
    {
      "data": {"name": "notes"},
      "transform": [{"filter": "datum.text === 'Lysozyme: 2 pdb files 4QEQ & 1 LYS'"}],
      "mark": {"type": "text", "align": "center", "baseline": "middle", "fontSize": 25, "font": "Liberation Sans", "color": "#000000"},
      "encoding": {
        "x": {"datum": 12.056, "type": "quantitative", "axis": null},
        "y": {"datum": 14.94, "type": "quantitative", "axis": null},
        "text": {"field": "text"}
      }
    },
    {
      "data": {"name": "notes"},
      "transform": [{"filter": "datum.text === 'T 298K'"}],
      "mark": {"type": "text", "align": "center", "baseline": "middle", "fontSize": 25, "font": "Liberation Sans", "color": "#000000"},
      "encoding": {
        "x": {"datum": 12.056, "type": "quantitative", "axis": null},
        "y": {"datum": 14.0, "type": "quantitative", "axis": null},
        "text": {"field": "text"}
      }
    },
    {
      "data": {"name": "notes"},
      "transform": [{"filter": "datum.text === 'model pdb: 4QEQ'"}],
      "mark": {"type": "rule", "color": "#8b0000", "strokeWidth": 2.5},
      "encoding": {
        "x": {"datum": 10.863, "type": "quantitative", "axis": null},
        "x2": {"datum": 11.271},
        "y": {"datum": 12.87, "type": "quantitative", "axis": null}
      }
    },
    {
      "data": {"name": "notes"},
      "transform": [{"filter": "datum.text === 'model pdb: 4QEQ'"}],
      "mark": {"type": "text", "align": "left", "baseline": "middle", "fontSize": 25, "font": "Liberation Sans", "color": "#000000"},
      "encoding": {
        "x": {"datum": 11.418, "type": "quantitative", "axis": null},
        "y": {"datum": 12.85, "type": "quantitative", "axis": null},
        "text": {"field": "text"}
      }
    },
    {
      "data": {"name": "notes"},
      "transform": [{"filter": "datum.text === 'pdb: 1LYSmodel'"}],
      "mark": {"type": "rule", "color": "#ff00ff", "strokeWidth": 4.5},
      "encoding": {
        "x": {"datum": 10.852, "type": "quantitative", "axis": null},
        "x2": {"datum": 11.278},
        "y": {"datum": 12.04, "type": "quantitative", "axis": null}
      }
    },
    {
      "data": {"name": "notes"},
      "transform": [{"filter": "datum.text === 'pdb: 1LYSmodel'"}],
      "mark": {"type": "text", "align": "left", "baseline": "middle", "fontSize": 25, "font": "Liberation Sans", "color": "#000000"},
      "encoding": {
        "x": {"datum": 11.364, "type": "quantitative", "axis": null},
        "y": {"datum": 12.03, "type": "quantitative", "axis": null},
        "text": {"field": "text"}
      }
    },
    {
      "data": {"name": "notes"},
      "transform": [{"filter": "indexof(datum.text, 'E159') >= 0"}],
      "mark": {"type": "rule", "color": "#a3a041", "strokeWidth": 1.5},
      "encoding": {
        "x": {"datum": 10.86, "type": "quantitative", "axis": null},
        "x2": {"datum": 11.258},
        "y": {"datum": 11.24, "type": "quantitative", "axis": null}
      }
    },
    {
      "data": {"name": "notes"},
      "transform": [{"filter": "indexof(datum.text, 'E159') >= 0"}],
      "mark": {"type": "point", "shape": "circle", "filled": true, "fill": "#ffff00", "stroke": "#1f9a1f", "strokeWidth": 1, "size": 55, "opacity": 1},
      "encoding": {
        "x": {"datum": 11.062, "type": "quantitative", "axis": null},
        "y": {"datum": 11.24, "type": "quantitative", "axis": null}
      }
    },
    {
      "data": {"name": "notes"},
      "transform": [{"filter": "indexof(datum.text, 'E159') >= 0"}],
      "mark": {"type": "text", "align": "left", "baseline": "middle", "fontSize": 25, "font": "Liberation Sans", "color": "#000000"},
      "encoding": {
        "x": {"datum": 11.364, "type": "quantitative", "axis": null},
        "y": {"datum": 11.24, "type": "quantitative", "axis": null},
        "text": {"field": "text"}
      }
    }
  ],
  "resolve": {"axis": {"x": "independent", "y": "independent"}}
}
